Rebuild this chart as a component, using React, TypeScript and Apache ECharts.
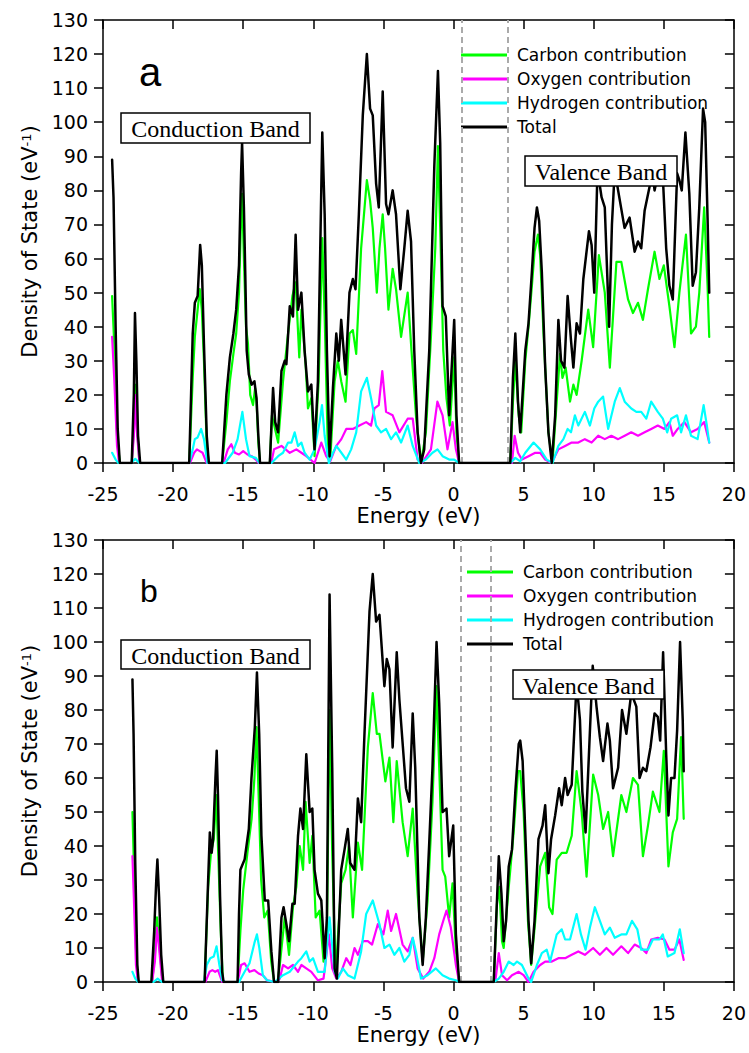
import React, { useEffect, useRef } from "react";
import * as echarts from "echarts";

// ---------- data ----------
const seriesNames = ["Carbon contribution", "Oxygen contribution", "Hydrogen contribution", "Total"];
const seriesColors = ["#00ff00", "#ff00ff", "#00ffff", "#000000"];
const seriesWidths = [2.2, 2.2, 2.2, 2.5];
const xMin = -25;
const xMax = 20;
const xInterval = 5;
const yMin = 0;
const yMax = 130;
const yInterval = 10;
const aGapLines = [0.62, 3.87];
const bGapLines = [0.55, 2.65];
const bandLabels = ["Conduction Band", "Valence Band"];
const panelLabels = ["a", "b"];

const aCarbon: [number, number][] = [
  [-24.35, 49], [-24.2, 35], [-24.0, 8], [-23.8, 0],
  [-22.95, 0], [-22.8, 10], [-22.72, 23], [-22.6, 12], [-22.4, 0],
  [-18.85, 0], [-18.6, 25], [-18.45, 37], [-18.25, 45], [-18.1, 51], [-17.95, 45], [-17.8, 30], [-17.6, 5], [-17.45, 0],
  [-16.5, 0], [-16.2, 12], [-15.95, 24], [-15.7, 32], [-15.5, 38], [-15.3, 50], [-15.15, 72], [-15.08, 79], [-14.95, 60], [-14.8, 40], [-14.66, 35], [-14.5, 20], [-14.3, 17], [-14.15, 22], [-14.05, 18], [-13.92, 6], [-13.8, 0],
  [-13.1, 0], [-12.95, 14], [-12.51, 6], [-12.16, 24], [-11.8, 38], [-11.49, 49], [-11.26, 53], [-11.0, 31], [-10.85, 45], [-10.55, 29], [-10.38, 16], [-10.14, 19], [-9.91, 2], [-9.62, 24], [-9.36, 66], [-9.19, 43], [-8.96, 4], [-8.79, 1], [-8.48, 24], [-8.25, 30], [-8.01, 24], [-7.7, 18], [-7.42, 38], [-7.18, 39], [-6.94, 32], [-6.59, 63], [-6.18, 83], [-5.95, 77], [-5.76, 69], [-5.47, 50], [-5.28, 63], [-5.05, 73], [-4.88, 63], [-4.64, 45], [-4.34, 57], [-4.1, 51], [-3.74, 37], [-3.27, 50], [-3.03, 35], [-2.68, 14], [-2.32, 0], [-1.97, 9], [-1.61, 37], [-1.3, 63], [-1.11, 93], [-0.95, 69], [-0.73, 33], [-0.5, 19], [-0.26, 11], [0.05, 31], [0.21, 9], [0.4, 0],
  [4.05, 0], [4.24, 18], [4.41, 30], [4.65, 14], [4.83, 9], [5.12, 30], [5.35, 40], [5.59, 52], [5.78, 62], [6.02, 67], [6.18, 61], [6.42, 38], [6.77, 9], [7.06, 0], [7.36, 18], [7.6, 32], [7.77, 25], [8.0, 28], [8.31, 18], [8.55, 23], [8.78, 20], [9.14, 30], [9.61, 45], [9.96, 34], [10.37, 61], [10.79, 50], [11.15, 28], [11.62, 59], [11.97, 59], [12.45, 48], [12.8, 44], [13.16, 47], [13.51, 42], [13.87, 51], [14.34, 62], [14.69, 54], [15.0, 58], [15.4, 46], [15.76, 34], [16.11, 50], [16.58, 67], [16.94, 38], [17.29, 40], [17.53, 50], [17.88, 75], [18.12, 52], [18.24, 37],
];

const aOxygen: [number, number][] = [
  [-24.35, 37], [-24.2, 25], [-24.0, 5], [-23.85, 0],
  [-22.95, 0], [-22.8, 8], [-22.72, 20], [-22.6, 10], [-22.4, 0],
  [-18.8, 0], [-18.5, 3], [-18.3, 4], [-18.1, 3.5], [-17.9, 3], [-17.6, 0],
  [-16.4, 0], [-16.1, 4], [-15.85, 5.5], [-15.6, 3], [-15.3, 2.5], [-15.0, 3.5], [-14.7, 2.5], [-14.4, 2], [-14.1, 1], [-13.9, 0],
  [-13.0, 0], [-12.8, 4], [-12.27, 5], [-11.68, 3], [-11.21, 4], [-10.85, 3], [-10.5, 2], [-9.91, 0], [-9.43, 6], [-9.08, 2], [-8.8, 0.5], [-8.36, 5], [-8.0, 7], [-7.65, 10], [-7.18, 10], [-6.71, 11], [-6.23, 12], [-5.88, 11], [-5.64, 16], [-5.33, 17], [-5.08, 27], [-4.81, 15], [-4.34, 14], [-3.86, 9], [-3.27, 13], [-2.91, 13], [-2.56, 1], [-2.25, 0], [-1.61, 4], [-1.15, 18], [-0.78, 14], [-0.43, 4], [-0.07, 12], [0.17, 4], [0.4, 0],
  [4.17, 0], [4.36, 8], [4.6, 3], [4.88, 1], [5.35, 2], [5.83, 3], [6.18, 3], [6.54, 1], [7.0, 0], [7.48, 4], [7.96, 5], [8.43, 6], [8.9, 6], [9.37, 7], [9.85, 6], [10.32, 8], [10.79, 7], [11.26, 8], [11.74, 7], [12.21, 8], [12.68, 9], [13.16, 8], [13.63, 9], [14.1, 10], [14.57, 11], [15.05, 10], [15.4, 12], [15.64, 8], [15.99, 10], [16.47, 12], [16.94, 9], [17.41, 10], [17.88, 12], [18.24, 6],
];

const aHydrogen: [number, number][] = [
  [-24.35, 3], [-24.1, 1], [-23.9, 0],
  [-23.0, 0], [-22.7, 1.2], [-22.4, 0],
  [-18.85, 0], [-18.6, 4], [-18.45, 7], [-18.25, 7.5], [-18.0, 10], [-17.8, 7], [-17.55, 0],
  [-16.3, 0], [-15.75, 3], [-15.4, 7], [-15.06, 15], [-14.8, 7], [-14.55, 2], [-14.1, 1.5], [-13.85, 0],
  [-12.99, 0], [-12.51, 2], [-12.16, 3], [-11.8, 6], [-11.56, 6], [-11.33, 9], [-11.09, 5], [-10.85, 6], [-10.62, 3], [-10.26, 1], [-9.91, 4], [-9.55, 12], [-9.38, 17], [-9.19, 8], [-8.89, 0], [-8.6, 3], [-8.36, 5], [-8.0, 3], [-7.65, 1], [-7.3, 4], [-6.94, 9], [-6.59, 21], [-6.18, 25], [-5.88, 19], [-5.52, 11], [-5.17, 9], [-4.81, 10], [-4.45, 7], [-4.1, 9], [-3.74, 6], [-3.27, 11], [-2.91, 5], [-2.44, 0], [-1.97, 1], [-1.5, 3], [-1.14, 4], [-0.78, 2], [-0.31, 1], [0.05, 1], [0.4, 0],
  [4.05, 0], [4.41, 1.5], [4.76, 0.5], [5.12, 3], [5.71, 6], [6.18, 4], [6.65, 1], [7.06, 0], [7.48, 5], [7.84, 7], [8.14, 10], [8.38, 9], [8.66, 14], [8.9, 11], [9.37, 15], [9.73, 11], [10.04, 16], [10.32, 18], [10.67, 19.5], [11.03, 10], [11.5, 18], [11.86, 22], [12.21, 18], [12.68, 16], [13.04, 15], [13.39, 15], [13.75, 13], [14.1, 18], [14.57, 15], [14.93, 13], [15.24, 9], [15.52, 13], [15.95, 14], [16.23, 9], [16.58, 14], [16.94, 8], [17.41, 7], [17.84, 17], [18.07, 11], [18.24, 6],
];

const aTotal: [number, number][] = [
  [-24.35, 89], [-24.25, 78], [-24.1, 40], [-23.95, 10], [-23.8, 0],
  [-22.95, 0], [-22.8, 20], [-22.72, 44], [-22.62, 30], [-22.5, 8], [-22.35, 0],
  [-18.85, 0], [-18.6, 38], [-18.45, 47], [-18.25, 49], [-18.07, 64], [-17.95, 58], [-17.8, 35], [-17.6, 8], [-17.45, 0],
  [-16.5, 0], [-16.2, 20], [-15.95, 31], [-15.7, 38], [-15.5, 45], [-15.3, 58], [-15.15, 85], [-15.08, 94], [-14.95, 75], [-14.85, 55], [-14.75, 33], [-14.6, 26], [-14.4, 23], [-14.2, 24], [-14.05, 19], [-13.92, 8], [-13.8, 0],
  [-13.1, 0], [-12.87, 22], [-12.72, 12], [-12.51, 9], [-12.27, 27], [-12.04, 30], [-11.92, 29], [-11.68, 46], [-11.45, 43], [-11.26, 67], [-11.09, 45], [-10.85, 50], [-10.62, 33], [-10.38, 21], [-10.14, 23], [-9.91, 4], [-9.67, 24], [-9.36, 97], [-9.19, 73], [-9.03, 33], [-8.84, 2], [-8.6, 22], [-8.36, 38], [-8.18, 30], [-8.01, 42], [-7.7, 26], [-7.42, 50], [-7.18, 54], [-6.99, 51], [-6.75, 73], [-6.47, 102], [-6.18, 120], [-5.95, 104], [-5.76, 102], [-5.52, 82], [-5.33, 75], [-5.05, 109], [-4.81, 76], [-4.64, 73], [-4.34, 80], [-4.1, 73], [-3.79, 51], [-3.51, 63], [-3.27, 74], [-3.03, 65], [-2.8, 33], [-2.56, 9], [-2.32, 0], [-2.09, 4], [-1.73, 33], [-1.37, 87], [-1.11, 115], [-0.95, 94], [-0.78, 46], [-0.55, 43], [-0.31, 14], [0.05, 42], [0.21, 14], [0.4, 0],
  [4.05, 0], [4.24, 25], [4.41, 38], [4.6, 18], [4.76, 9], [4.88, 17], [5.12, 33], [5.35, 41], [5.59, 56], [5.78, 69], [5.95, 75], [6.11, 71], [6.3, 56], [6.54, 28], [6.77, 9], [7.01, 0], [7.25, 14], [7.48, 42], [7.67, 30], [7.91, 28], [8.14, 49], [8.38, 36], [8.55, 28], [8.78, 41], [9.02, 38], [9.26, 54], [9.66, 68], [9.85, 64], [10.04, 50], [10.27, 86], [10.56, 78], [10.79, 75], [11.1, 40], [11.3, 70], [11.5, 86], [11.74, 80], [12.2, 69], [12.56, 72], [12.92, 62], [13.16, 65], [13.39, 63], [13.63, 74], [13.98, 81], [14.18, 86], [14.34, 80], [14.65, 86], [14.93, 84], [15.17, 63], [15.4, 52], [15.64, 48], [15.95, 85], [16.11, 83], [16.28, 80], [16.54, 97], [16.82, 79], [17.06, 52], [17.29, 56], [17.53, 75], [17.8, 104], [17.95, 100], [18.12, 72], [18.24, 50],
];

const bCarbon: [number, number][] = [
  [-22.9, 50], [-22.8, 35], [-22.65, 10], [-22.5, 0],
  [-21.5, 0], [-21.3, 8], [-21.15, 19], [-21.0, 12], [-20.8, 2], [-20.7, 0],
  [-17.75, 0], [-17.5, 28], [-17.3, 38], [-17.1, 42], [-16.92, 55], [-16.8, 40], [-16.6, 15], [-16.45, 0],
  [-15.4, 0], [-15.2, 15], [-15.0, 27], [-14.7, 38], [-14.4, 48], [-14.2, 60], [-14.05, 75], [-13.9, 55], [-13.72, 30], [-13.5, 19], [-13.25, 21], [-13.0, 6], [-12.8, 0],
  [-12.55, 0], [-12.39, 5], [-12.04, 19], [-11.73, 8], [-11.45, 22], [-11.21, 28], [-10.97, 40], [-10.73, 33], [-10.55, 53], [-10.26, 35], [-10.07, 43], [-9.83, 19], [-9.55, 21], [-9.27, 6], [-9.03, 14], [-8.84, 80], [-8.65, 38], [-8.41, 2], [-8.01, 29], [-7.7, 33], [-7.46, 40], [-7.18, 19], [-6.82, 41], [-6.52, 33], [-6.11, 69], [-5.76, 85], [-5.47, 73], [-5.28, 73], [-4.86, 59], [-4.57, 66], [-4.29, 47], [-4.05, 65], [-3.63, 47], [-3.27, 37], [-2.91, 51], [-2.56, 26], [-2.2, 6], [-1.85, 24], [-1.5, 53], [-1.21, 87], [-1.02, 63], [-0.78, 33], [-0.59, 31], [-0.31, 19], [-0.07, 29], [0.17, 9], [0.4, 0],
  [2.87, 0], [3.1, 23], [3.27, 28], [3.46, 12], [3.58, 10], [3.94, 28], [4.29, 44], [4.6, 62], [4.76, 62], [5.0, 50], [5.31, 18], [5.54, 5], [5.83, 18], [6.18, 34], [6.54, 38], [6.82, 22], [7.06, 20], [7.36, 36], [7.72, 38], [8.07, 38], [8.43, 43], [8.78, 62], [9.14, 50], [9.49, 31], [9.96, 61], [10.32, 55], [10.67, 45], [11.03, 50], [11.38, 37], [11.97, 55], [12.33, 50], [12.8, 60], [13.16, 58], [13.51, 37], [13.87, 46], [14.22, 56], [14.69, 50], [15.0, 68], [15.33, 34], [15.64, 44], [15.95, 48], [16.23, 72], [16.42, 48],
];

const bOxygen: [number, number][] = [
  [-22.9, 37], [-22.8, 25], [-22.65, 5], [-22.5, 0],
  [-21.5, 0], [-21.3, 6], [-21.15, 16], [-21.0, 10], [-20.8, 1], [-20.7, 0],
  [-17.7, 0], [-17.4, 3], [-17.2, 3.5], [-17.0, 3], [-16.8, 3.5], [-16.5, 0],
  [-15.4, 0], [-15.15, 5], [-14.9, 5.5], [-14.55, 3], [-14.2, 3.5], [-13.9, 2.5], [-13.6, 2], [-13.3, 0.5], [-12.6, 0],
  [-12.39, 1], [-12.16, 5], [-11.8, 4], [-11.45, 5], [-11.09, 3], [-10.85, 5], [-10.5, 4], [-10.14, 3], [-9.67, 0.5], [-9.27, 1], [-8.89, 14], [-8.65, 4], [-8.36, 1], [-8.01, 3], [-7.65, 7], [-7.35, 5], [-7.06, 10], [-6.82, 8], [-6.47, 12], [-6.11, 12], [-5.81, 11], [-5.4, 17], [-5.0, 14], [-4.69, 21], [-4.45, 15], [-4.1, 20], [-3.63, 11], [-3.27, 9], [-2.91, 13], [-2.56, 4], [-2.16, 1], [-1.73, 3], [-1.37, 7], [-1.02, 14], [-0.73, 18], [-0.5, 21], [-0.19, 16], [0.17, 5], [0.4, 0],
  [2.87, 0], [2.99, 0.5], [3.23, 8.5], [3.46, 2], [3.82, 0.5], [4.17, 2], [4.65, 3], [5.0, 2], [5.35, 0], [5.71, 3], [6.18, 5], [6.54, 6], [7.01, 6], [7.48, 7], [7.96, 7], [8.43, 8], [8.9, 9], [9.37, 8], [9.96, 10], [10.44, 8], [10.91, 10], [11.38, 8], [11.97, 10.5], [12.45, 8.5], [12.92, 11], [13.39, 10], [13.75, 8.5], [14.1, 12.5], [14.57, 13], [15.05, 12.5], [15.4, 9.5], [15.76, 9.5], [16.11, 12.5], [16.42, 6.5],
];

const bHydrogen: [number, number][] = [
  [-22.9, 3], [-22.7, 1], [-22.5, 0],
  [-21.4, 0], [-21.1, 1], [-20.8, 0],
  [-17.8, 0], [-17.6, 5], [-17.35, 7], [-17.1, 7.5], [-16.9, 10.5], [-16.7, 5], [-16.5, 0.5], [-16.3, 0],
  [-15.3, 0], [-14.9, 3], [-14.55, 5.5], [-14.2, 11.5], [-14.02, 14], [-13.85, 10], [-13.6, 2], [-13.3, 0.5], [-12.75, 0],
  [-12.16, 2], [-11.68, 3], [-11.09, 6], [-10.85, 7], [-10.5, 9], [-10.26, 6], [-10.02, 7], [-9.67, 3], [-9.19, 3], [-8.84, 19], [-8.48, 3], [-8.25, 1], [-7.89, 4], [-7.54, 2], [-7.06, 1], [-6.59, 9], [-6.23, 20], [-5.76, 24], [-5.28, 17], [-4.93, 10], [-4.57, 11], [-4.22, 8], [-3.86, 10], [-3.51, 6], [-3.15, 8], [-2.91, 13], [-2.68, 9], [-2.32, 1], [-1.85, 2], [-1.26, 4], [-0.78, 2], [-0.31, 1], [0.17, 0.5], [0.4, 0],
  [2.87, 0], [3.23, 1], [3.58, 3], [3.94, 6], [4.29, 5], [4.53, 6], [4.88, 5], [5.35, 1], [5.54, 0], [5.95, 5], [6.3, 8.5], [6.65, 9.5], [6.89, 6], [7.36, 14], [7.72, 15.5], [7.96, 12.5], [8.31, 12.5], [8.78, 20], [9.09, 14], [9.42, 9.5], [9.73, 16], [10.08, 22], [10.44, 18], [10.79, 14], [11.15, 16], [11.5, 13], [11.97, 14], [12.33, 14], [12.73, 18], [13.11, 15.5], [13.39, 9.5], [13.87, 9.5], [14.22, 12.5], [14.69, 12.5], [14.93, 14], [15.28, 7.5], [15.76, 8.5], [16.14, 15.5], [16.42, 8.5],
];

const bTotal: [number, number][] = [
  [-22.9, 89], [-22.82, 73], [-22.7, 35], [-22.55, 5], [-22.45, 0],
  [-21.55, 0], [-21.35, 15], [-21.2, 30], [-21.12, 36], [-21.0, 25], [-20.85, 8], [-20.7, 0],
  [-17.75, 0], [-17.5, 30], [-17.38, 44], [-17.25, 38], [-17.15, 42], [-16.98, 60], [-16.89, 68], [-16.8, 55], [-16.65, 25], [-16.5, 3], [-16.4, 0],
  [-15.4, 0], [-15.3, 20], [-15.2, 33], [-14.9, 36], [-14.6, 45], [-14.41, 60], [-14.17, 75], [-14.02, 91], [-13.86, 73], [-13.7, 43], [-13.46, 24], [-13.22, 24], [-12.99, 9], [-12.8, 0], [-12.51, 0],
  [-12.27, 19], [-12.12, 22], [-11.92, 17], [-11.73, 12], [-11.49, 23], [-11.33, 23], [-11.09, 43], [-10.92, 51], [-10.73, 45], [-10.5, 67], [-10.26, 50], [-10.07, 51], [-9.91, 33], [-9.67, 26], [-9.43, 24], [-9.19, 7], [-9.03, 19], [-8.84, 114], [-8.65, 63], [-8.48, 4], [-8.32, 1], [-8.01, 33], [-7.77, 39], [-7.54, 45], [-7.37, 35], [-7.06, 33], [-6.82, 54], [-6.59, 47], [-6.35, 73], [-5.99, 109], [-5.76, 120], [-5.52, 106], [-5.28, 108], [-4.93, 87], [-4.76, 95], [-4.57, 92], [-4.34, 69], [-4.05, 97], [-3.86, 83], [-3.39, 57], [-3.15, 53], [-2.91, 79], [-2.73, 63], [-2.44, 19], [-2.2, 5], [-1.97, 19], [-1.73, 41], [-1.5, 63], [-1.21, 100], [-1.02, 82], [-0.78, 50], [-0.5, 51], [-0.31, 37], [-0.02, 46], [0.17, 14], [0.4, 0],
  [2.87, 0], [3.04, 18], [3.23, 37], [3.42, 26], [3.58, 12], [3.75, 18], [3.94, 34], [4.17, 39], [4.41, 56], [4.65, 70], [4.76, 71], [4.93, 65], [5.12, 44], [5.35, 18], [5.54, 5.5], [5.78, 18], [6.06, 42], [6.35, 46], [6.54, 52], [6.77, 32], [6.96, 42], [7.25, 49], [7.53, 57], [7.72, 52], [7.96, 60], [8.14, 55], [8.43, 58], [8.78, 88], [9.02, 77], [9.19, 56], [9.42, 44], [9.66, 67], [9.93, 93], [10.2, 81], [10.44, 72], [10.67, 65], [10.98, 76], [11.15, 71], [11.38, 57], [11.74, 63], [12.02, 80], [12.33, 73], [12.68, 85], [13.04, 81], [13.27, 60], [13.51, 63], [13.75, 62], [14.05, 69], [14.34, 79], [14.57, 78], [14.74, 71], [14.95, 97], [15.17, 67], [15.33, 49], [15.52, 60], [15.76, 60], [15.95, 74], [16.16, 100], [16.35, 77], [16.42, 62],
];

const panelSeries = [
  [aCarbon, aOxygen, aHydrogen, aTotal],
  [bCarbon, bOxygen, bHydrogen, bTotal],
];
const panelGapLines = [aGapLines, bGapLines];

// ---------- layout ----------
const W = 749;
const H = 1053;
const grids = [
  { left: 103, top: 20, width: 634, height: 443 },
  { left: 103, top: 540, width: 634, height: 442 },
];
const legendPos = [
  { left: 461, top: 45 },
  { left: 467, top: 562 },
];
const boxes = [
  [
    { x: 121, y: 113, w: 189, h: 30 },
    { x: 525, y: 156, w: 152, h: 30 },
  ],
  [
    { x: 121, y: 640, w: 189, h: 29 },
    { x: 513, y: 670, w: 151, h: 29 },
  ],
];
const letterPos = [
  { x: 139, y: 72, size: 40 },
  { x: 140, y: 591, size: 32 },
];

const SANS = "DejaVu Sans";
const SERIF = "Liberation Serif";

function buildOption() {
  const xAxis: any[] = [];
  const yAxis: any[] = [];
  const series: any[] = [];
  const legend: any[] = [];
  const graphic: any[] = [];

  grids.forEach((g, i) => {
    const axisLine = { show: true, onZero: false, lineStyle: { color: "#000", width: 1.5 } };
    xAxis.push({
      type: "value",
      gridIndex: i,
      min: xMin,
      max: xMax,
      interval: xInterval,
      position: "bottom",
      axisLine,
      axisTick: { show: true, inside: false, length: 9, lineStyle: { color: "#000", width: 1.5 } },
      axisLabel: { color: "#000", fontFamily: SANS, fontSize: 19, margin: 21 },
      splitLine: { show: false },
      name: "Energy (eV)",
      nameLocation: "middle",
      nameGap: 42,
      nameTextStyle: { color: "#000", fontFamily: SANS, fontSize: 21 },
    });
    xAxis.push({
      type: "value",
      gridIndex: i,
      min: xMin,
      max: xMax,
      interval: xInterval,
      position: "top",
      axisLine,
      axisTick: { show: true, inside: true, length: 9, lineStyle: { color: "#000", width: 1.5 } },
      axisLabel: { show: false },
      splitLine: { show: false },
    });
    yAxis.push({
      type: "value",
      gridIndex: i,
      min: yMin,
      max: yMax,
      interval: yInterval,
      position: "left",
      axisLine,
      axisTick: { show: true, inside: false, length: 9, lineStyle: { color: "#000", width: 1.5 } },
      axisLabel: { color: "#000", fontFamily: SANS, fontSize: 19, margin: 15 },
      splitLine: { show: false },
      name: "{n|Density of State (eV}{s|-1}{n|)}",
      nameLocation: "middle",
      nameGap: 62,
      nameTextStyle: {
        color: "#000",
        rich: {
          n: { fontFamily: SANS, fontSize: 21, color: "#000" },
          s: { fontFamily: SANS, fontSize: 13, color: "#000", verticalAlign: "top", lineHeight: 13 },
        },
      },
    });
    yAxis.push({
      type: "value",
      gridIndex: i,
      min: yMin,
      max: yMax,
      interval: yInterval,
      position: "right",
      axisLine,
      axisTick: { show: true, inside: true, length: 9, lineStyle: { color: "#000", width: 1.5 } },
      axisLabel: { show: false },
      splitLine: { show: false },
    });

    panelSeries[i].forEach((data, k) => {
      const s: any = {
        name: seriesNames[k],
        type: "line",
        xAxisIndex: i * 2,
        yAxisIndex: i * 2,
        data,
        symbol: "none",
        showSymbol: false,
        smooth: false,
        color: seriesColors[k],
        itemStyle: { color: seriesColors[k] },
        lineStyle: { color: seriesColors[k], width: seriesWidths[k], join: "round", cap: "round" },
        z: 2 + k,
      };
      if (k === 3) {
        s.markLine = {
          silent: true,
          symbol: ["none", "none"],
          label: { show: false },
          lineStyle: { color: "#aaaaaa", type: [6, 4], width: 2 },
          data: panelGapLines[i].map((v) => ({ xAxis: v })),
        };
      }
      series.push(s);
    });

    legend.push({
      data: seriesNames,
      orient: "vertical",
      left: legendPos[i].left,
      top: legendPos[i].top,
      icon: "rect",
      itemWidth: 46,
      itemHeight: 3,
      itemGap: 4,
      selectedMode: false,
      padding: 0,
      textStyle: { color: "#000", fontFamily: SANS, fontSize: 17, lineHeight: 20, padding: [0, 0, 0, 5] },
    });

    boxes[i].forEach((b, j) => {
      graphic.push({
        type: "rect",
        z: 100,
        shape: { x: b.x, y: b.y, width: b.w, height: b.h },
        style: { fill: "#fff", stroke: "#000", lineWidth: 1.5 },
      });
      graphic.push({
        type: "text",
        z: 101,
        x: b.x + b.w / 2,
        y: b.y + b.h / 2 + 1,
        style: {
          text: bandLabels[j],
          font: `24px "${SERIF}"`,
          fill: "#000",
          align: "center",
          verticalAlign: "middle",
        },
      });
    });

    graphic.push({
      type: "text",
      z: 101,
      x: letterPos[i].x,
      y: letterPos[i].y,
      style: {
        text: panelLabels[i],
        font: `${letterPos[i].size}px "Liberation Sans"`,
        fill: "#000",
        align: "left",
        verticalAlign: "middle",
      },
    });
  });

  return {
    animation: false,
    backgroundColor: "#ffffff",
    grid: grids.map((g) => ({ ...g, containLabel: false })),
    xAxis,
    yAxis,
    legend,
    series,
    graphic,
  };
}

export default function App() {
  const ref = useRef<HTMLDivElement>(null);
  useEffect(() => {
    if (!ref.current) return;
    const chart = echarts.init(ref.current, undefined, { renderer: "svg" });
    chart.setOption(buildOption() as any);
    return () => chart.dispose();
  }, []);
  return (
    <div
      ref={ref}
      style={{ position: "fixed", left: 0, top: 0, width: W, height: H, background: "#fff" }}
    />
  );
}
